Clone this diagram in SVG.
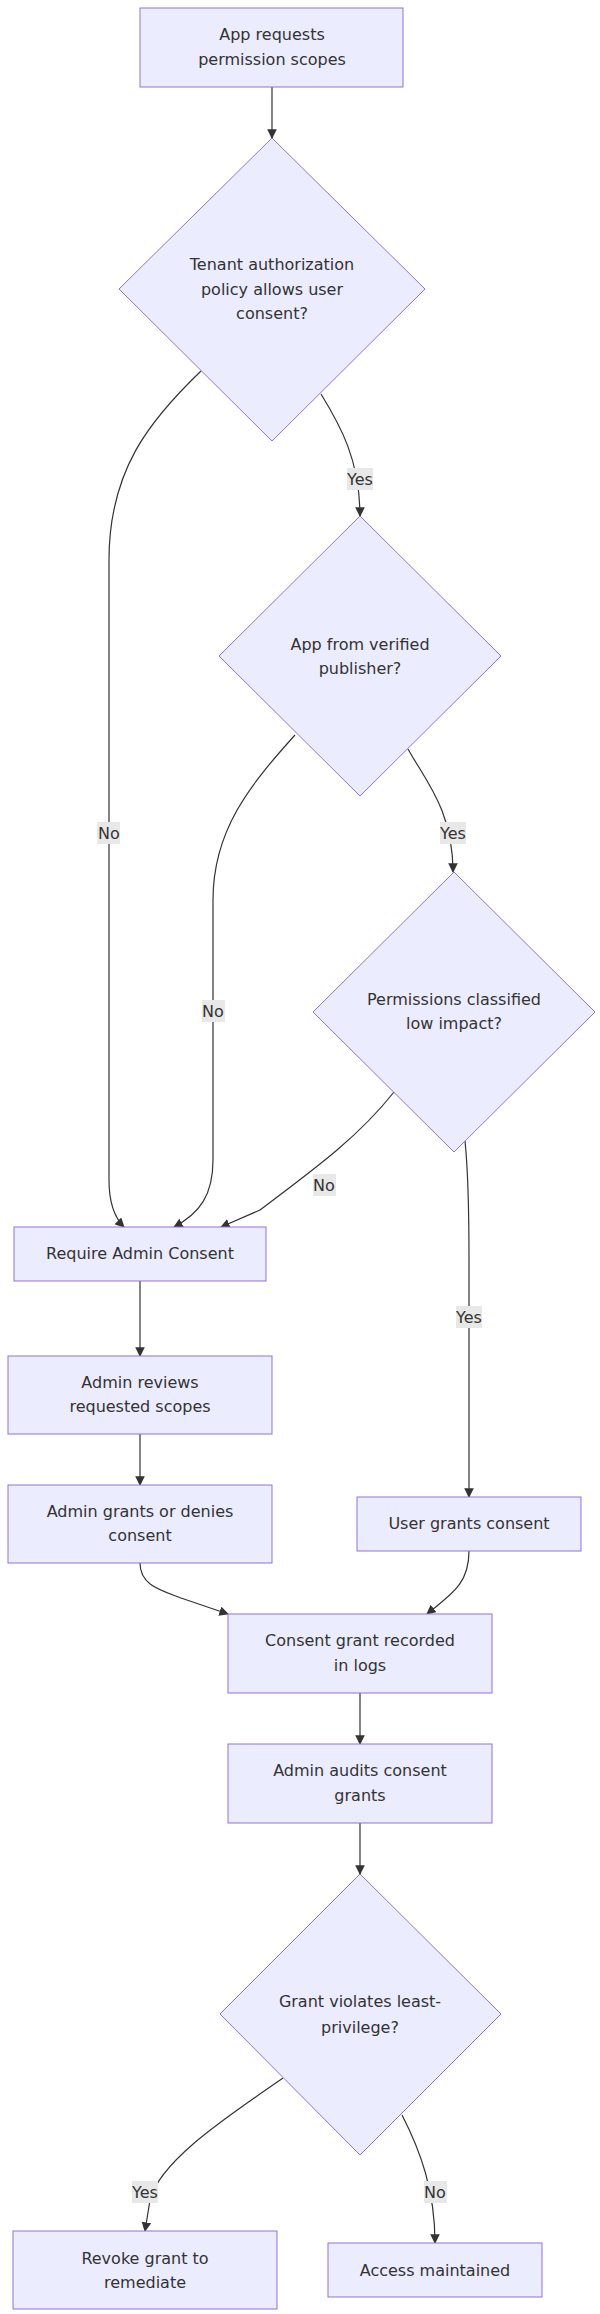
<svg xmlns="http://www.w3.org/2000/svg" width="600" height="2314" viewBox="0 0 600 2314">
<style>
.n{fill:#ECECFF;stroke:#9370DB;stroke-width:1}
.t{font-family:"DejaVu Sans",sans-serif;font-size:16px;fill:#333;text-anchor:middle;dominant-baseline:central}
.e{fill:none;stroke:#333;stroke-width:1.2;marker-end:url(#a)}
.lb{fill:#e8e8e8}
</style>
<defs><marker id="a" viewBox="0 0 10 10" refX="9" refY="5" markerWidth="8" markerHeight="8" orient="auto"><path d="M0,0L10,5L0,10z" fill="#333"/></marker></defs>
<rect width="600" height="2314" fill="#fff"/>
<g id="edges">
<path class="e" d="M272,87 L272,138"/>
<path class="e" d="M201,371 C150,420 109,470 109,560 L109,1180 C109,1205 115,1218 124,1227"/>
<path class="e" d="M321,394 C340,425 360,460 360,516"/>
<path class="e" d="M295,735 C250,785 213,830 213,900 L213,1160 C213,1195 200,1213 174,1227"/>
<path class="e" d="M408,749 C425,780 453,810 453,872"/>
<path class="e" d="M394,1092 C360,1135 320,1165 260,1210 L221,1227"/>
<path class="e" d="M465,1141 C468,1170 469,1200 469,1260 L469,1497"/>
<path class="e" d="M140,1281 L140,1356"/>
<path class="e" d="M140,1434 L140,1485"/>
<path class="e" d="M140,1563 C140,1585 160,1590 181,1598 L228,1614"/>
<path class="e" d="M469,1551 C469,1585 450,1595 427,1614"/>
<path class="e" d="M360,1693 L360,1744"/>
<path class="e" d="M360,1823 L360,1874"/>
<path class="e" d="M283,2078 C230,2115 160,2160 150,2200 L145,2231"/>
<path class="e" d="M402,2115 C420,2150 435,2190 435,2243"/>
<rect class="lb" x="97" y="822" width="23" height="22"/><text class="t" x="109" y="833">No</text>
<rect class="lb" x="347" y="468" width="26" height="22"/><text class="t" x="360" y="479">Yes</text>
<rect class="lb" x="202" y="1000" width="23" height="22"/><text class="t" x="213" y="1011">No</text>
<rect class="lb" x="440" y="822" width="26" height="22"/><text class="t" x="453" y="833">Yes</text>
<rect class="lb" x="313" y="1174" width="23" height="22"/><text class="t" x="324" y="1185">No</text>
<rect class="lb" x="456" y="1306" width="26" height="22"/><text class="t" x="469" y="1317">Yes</text>
<rect class="lb" x="132" y="2181" width="26" height="22"/><text class="t" x="145" y="2192">Yes</text>
<rect class="lb" x="424" y="2181" width="23" height="22"/><text class="t" x="435" y="2192">No</text>
</g>
<g id="A"><rect class="n" x="140" y="8" width="263" height="79"/><text class="t" x="272" y="34">App requests</text><text class="t" x="272" y="59">permission scopes</text></g>
<g id="D1"><polygon class="n" points="272,138 425,289 272,441 119,289"/><text class="t" x="272" y="264">Tenant authorization</text><text class="t" x="272" y="289">policy allows user</text><text class="t" x="272" y="313">consent?</text></g>
<g id="D2"><polygon class="n" points="360,516 501,656 360,796 219,656"/><text class="t" x="360" y="644">App from verified</text><text class="t" x="360" y="668">publisher?</text></g>
<g id="D3"><polygon class="n" points="454,872 595,1012 454,1152 313,1012"/><text class="t" x="454" y="999">Permissions classified</text><text class="t" x="454" y="1023">low impact?</text></g>
<g id="R"><rect class="n" x="14" y="1227" width="252" height="54"/><text class="t" x="140" y="1253">Require Admin Consent</text></g>
<g id="RV"><rect class="n" x="8" y="1356" width="264" height="78"/><text class="t" x="140" y="1382">Admin reviews</text><text class="t" x="140" y="1406">requested scopes</text></g>
<g id="G"><rect class="n" x="8" y="1485" width="264" height="78"/><text class="t" x="140" y="1511">Admin grants or denies</text><text class="t" x="140" y="1535">consent</text></g>
<g id="U"><rect class="n" x="357" y="1497" width="224" height="54"/><text class="t" x="469" y="1523">User grants consent</text></g>
<g id="C"><rect class="n" x="228" y="1614" width="264" height="79"/><text class="t" x="360" y="1640">Consent grant recorded</text><text class="t" x="360" y="1665">in logs</text></g>
<g id="AU"><rect class="n" x="228" y="1744" width="264" height="79"/><text class="t" x="360" y="1770">Admin audits consent</text><text class="t" x="360" y="1795">grants</text></g>
<g id="D4"><polygon class="n" points="360,1874 501,2014 360,2155 220,2014"/><text class="t" x="360" y="2001">Grant violates least-</text><text class="t" x="360" y="2027">privilege?</text></g>
<g id="RK"><rect class="n" x="13" y="2231" width="264" height="78"/><text class="t" x="145" y="2258">Revoke grant to</text><text class="t" x="145" y="2282">remediate</text></g>
<g id="AM"><rect class="n" x="328" y="2243" width="214" height="54"/><text class="t" x="435" y="2270">Access maintained</text></g>
</svg>
